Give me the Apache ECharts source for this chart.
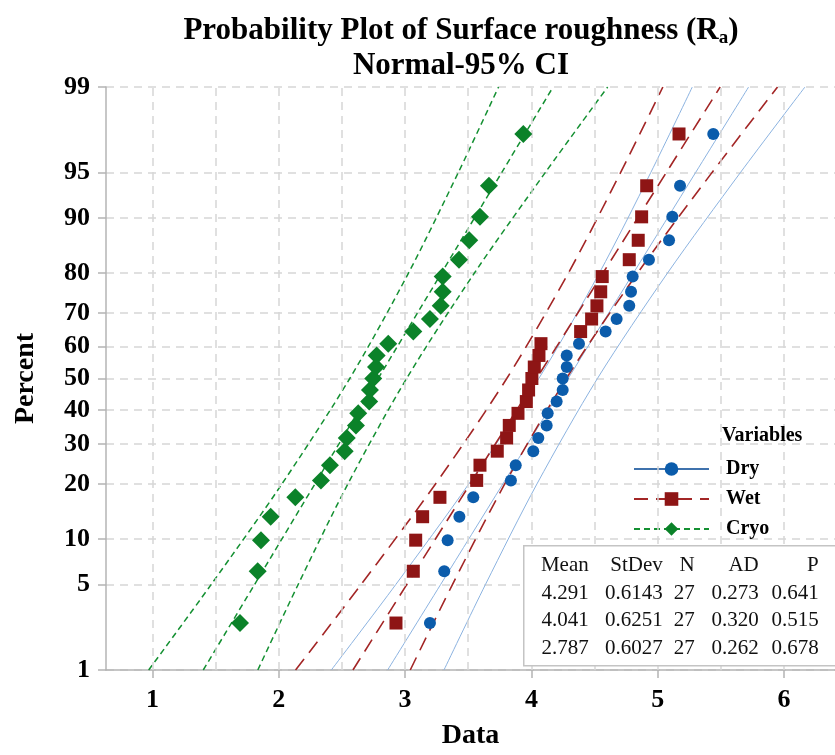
<!DOCTYPE html>
<html>
<head>
<meta charset="utf-8">
<script src="https://cdn.jsdelivr.net/npm/echarts@6/dist/echarts.min.js"></script>
<style>
  html, body { margin: 0; padding: 0; background: #fff; }
  #chart { width: 835px; height: 755px; }
</style>
</head>
<body>
<div id="chart"></div>
<script>
// percent axis labels and plotting positions (median ranks, n = 27)
const percentTicks = [1, 5, 10, 20, 30, 40, 50, 60, 70, 80, 90, 95, 99];
const plotPercent = [2.55, 6.20, 9.85, 13.50, 17.15, 20.80, 24.45, 28.10, 31.75, 35.40, 39.05, 42.70, 46.35,
  50.00, 53.65, 57.30, 60.95, 64.60, 68.25, 71.90, 75.55, 79.20, 82.85, 86.50, 90.15, 93.80, 97.45];

const dryData = [3.197, 3.31, 3.337, 3.43, 3.54, 3.838, 3.876, 4.015, 4.055, 4.121, 4.129, 4.20, 4.248, 4.248,
  4.28, 4.28, 4.377, 4.588, 4.675, 4.775, 4.789, 4.802, 4.931, 5.09, 5.116, 5.177, 5.44];
const wetData = [2.928, 3.065, 3.084, 3.139, 3.276, 3.567, 3.593, 3.730, 3.804, 3.825, 3.894, 3.96, 3.978, 4.004,
  4.023, 4.06, 4.076, 4.39, 4.477, 4.519, 4.549, 4.561, 4.775, 4.846, 4.873, 4.913, 5.169];
const cryoData = [1.693, 1.833, 1.859, 1.936, 2.131, 2.334, 2.405, 2.522, 2.538, 2.611, 2.629, 2.716, 2.722, 2.748,
  2.770, 2.775, 2.867, 3.065, 3.197, 3.282, 3.298, 3.298, 3.427, 3.508, 3.593, 3.664, 3.936];

// fitted line and 95% CI band, read at these percents
const bandPercent = [1, 5, 20, 50, 80, 95, 99];
const dryFit   = [2.862, 3.281, 3.774, 4.291, 4.808, 5.301, 5.720];
const dryLow   = [2.416, 2.926, 3.504, 4.059, 4.538, 4.946, 5.274];
const dryHigh  = [3.308, 3.636, 4.044, 4.523, 5.078, 5.656, 6.166];
const wetFit   = [2.587, 3.013, 3.515, 4.041, 4.567, 5.069, 5.495];
const wetLow   = [2.133, 2.651, 3.241, 3.805, 4.293, 4.707, 5.041];
const wetHigh  = [3.041, 3.375, 3.789, 4.277, 4.841, 5.431, 5.949];
const cryoFit  = [1.402, 1.808, 2.286, 2.787, 3.288, 3.766, 4.172];
const cryoLow  = [0.970, 1.464, 2.025, 2.562, 3.027, 3.422, 3.740];
const cryoHigh = [1.834, 2.153, 2.547, 3.012, 3.549, 4.111, 4.604];

const xTicks = [1, 2, 3, 4, 5, 6];
const xGrid = [1, 1.5, 2, 2.5, 3, 3.5, 4, 4.5, 5, 5.5, 6];

const tableHead = ['Mean', 'StDev', 'N', 'AD', 'P'];
const tableRows = [
  ['4.291', '0.6143', '27', '0.273', '0.641'],
  ['4.041', '0.6251', '27', '0.320', '0.515'],
  ['2.787', '0.6027', '27', '0.262', '0.678']
];

// normal quantile (probit) used as the y scale
function probit(p) {
  const a = [-3.969683028665376e+01, 2.209460984245205e+02, -2.759285104469687e+02, 1.383577518672690e+02, -3.066479806614716e+01, 2.506628277459239e+00];
  const b = [-5.447609879822406e+01, 1.615858368580409e+02, -1.556989798598866e+02, 6.680131188771972e+01, -1.328068155288572e+01];
  const c = [-7.784894002430293e-03, -3.223964580411365e-01, -2.400758277161838e+00, -2.549732539343734e+00, 4.374664141464968e+00, 2.938163982698783e+00];
  const d = [7.784695709041462e-03, 3.224671290700398e-01, 2.445134137142996e+00, 3.754408661907416e+00];
  const pl = 0.02425;
  if (p < pl) {
    const q = Math.sqrt(-2 * Math.log(p));
    return (((((c[0] * q + c[1]) * q + c[2]) * q + c[3]) * q + c[4]) * q + c[5]) / ((((d[0] * q + d[1]) * q + d[2]) * q + d[3]) * q + 1);
  }
  if (p > 1 - pl) {
    const q = Math.sqrt(-2 * Math.log(1 - p));
    return -(((((c[0] * q + c[1]) * q + c[2]) * q + c[3]) * q + c[4]) * q + c[5]) / ((((d[0] * q + d[1]) * q + d[2]) * q + d[3]) * q + 1);
  }
  const q = p - 0.5, r = q * q;
  return (((((a[0] * r + a[1]) * r + a[2]) * r + a[3]) * r + a[4]) * r + a[5]) * q / (((((b[0] * r + b[1]) * r + b[2]) * r + b[3]) * r + b[4]) * r + 1);
}
const zOf = (pct) => probit(pct / 100);

const serif = '"Liberation Serif", "Times New Roman", serif';
const colors = { dry: '#0b5cab', wet: '#8e1515', cryo: '#0b8229' };
const lineCols = { dry: '#8cb3e0', wet: '#a32626', cryo: '#149032' };

function pts(xs, pcts) {
  return xs.map((x, i) => [x, zOf(pcts[i])]);
}

function groupSeries(name, key, symbol, symSize, fit, low, high, obs, lineType, lineW) {
  const ls = { color: lineCols[key], width: lineW, type: lineType };
  const mk = (n, d) => ({
    name: n, type: 'line', data: pts(d, bandPercent), smooth: 0.3,
    symbol: symbol, showSymbol: false, symbolSize: symSize,
    itemStyle: { color: colors[key] }, lineStyle: ls, silent: true, z: 3
  });
  return [
    mk(name, fit),
    mk(name + ' lower', low),
    mk(name + ' upper', high),
    {
      name: name, type: 'scatter', data: pts(obs, plotPercent),
      symbol: symbol, symbolSize: symSize,
      itemStyle: { color: colors[key], opacity: 1 }, z: 5
    }
  ];
}

const chart = echarts.init(document.getElementById('chart'));

const yMin = zOf(1), yMax = zOf(99);
const yTickVals = percentTicks.map(zOf);

const tableCells = [tableHead].concat(tableRows).flatMap((row, r) =>
  row.map((txt, c) => ({
    type: 'text', z: 101,
    style: {
      text: txt, x: [65, 139, 171, 235, 295][c], y: 20 + r * 27.5,
      textAlign: 'right', textVerticalAlign: 'middle',
      font: '21px ' + serif, fill: '#111'
    }
  }))
);

const option = {
  animation: false,
  backgroundColor: '#fff',
  title: [{
    text: '{t|Probability Plot of Surface roughness (R}{s|a}{t|)}\n{t|Normal-95% CI}',
    left: 456, top: 8, textAlign: 'center',
    textStyle: {
      rich: {
        t: { fontFamily: serif, fontWeight: 'bold', fontSize: 31, lineHeight: 35, color: '#000' },
        s: { fontFamily: serif, fontWeight: 'bold', fontSize: 19, lineHeight: 14, verticalAlign: 'bottom', color: '#000' }
      }
    }
  }, {
    text: 'Variables', left: 717, top: 421,
    textStyle: { fontFamily: serif, fontWeight: 'bold', fontSize: 20, color: '#000' }
  }],
  grid: { left: 106, right: 0, top: 87, bottom: 81 },
  legend: {
    data: [
      { name: 'Dry', lineStyle: { color: '#3f72ad' } },
      { name: 'Wet' },
      { name: 'Cryo' }
    ],
    orient: 'vertical', left: 628, top: 454,
    itemWidth: 75, itemHeight: 17, itemGap: 10,
    selectedMode: false,
    textStyle: { fontFamily: serif, fontWeight: 'bold', fontSize: 20, color: '#000', padding: [0, 0, 0, 12] }
  },
  xAxis: {
    type: 'value', min: 0.632, max: 6.404,
    name: 'Data', nameLocation: 'middle', nameGap: 52,
    nameTextStyle: { fontFamily: serif, fontWeight: 'bold', fontSize: 28, color: '#000' },
    axisLine: { show: true, onZero: false, lineStyle: { color: '#b4b4b4', width: 1.5 } },
    axisTick: { show: true, customValues: xTicks, length: 8, lineStyle: { color: '#b4b4b4', width: 1.5 } },
    axisLabel: { customValues: xTicks, margin: 17, fontFamily: serif, fontWeight: 'bold', fontSize: 26, color: '#000' },
    splitLine: { show: false }
  },
  yAxis: {
    type: 'value', min: yMin, max: yMax,
    name: 'Percent', nameLocation: 'middle', nameGap: 66,
    nameTextStyle: { fontFamily: serif, fontWeight: 'bold', fontSize: 28, color: '#000' },
    axisLine: { show: true, onZero: false, lineStyle: { color: '#b4b4b4', width: 1.5 } },
    axisTick: { show: true, customValues: yTickVals, length: 8, lineStyle: { color: '#b4b4b4', width: 1.5 } },
    axisLabel: {
      customValues: yTickVals, margin: 16,
      fontFamily: serif, fontWeight: 'bold', fontSize: 26, color: '#000',
      formatter: (v) => {
        const i = yTickVals.findIndex((t) => Math.abs(t - v) < 1e-6);
        return i >= 0 ? String(percentTicks[i]) : '';
      }
    },
    splitLine: { show: true, lineStyle: { color: '#d6d6d6', type: [8, 6], width: 1.5 } }
  },
  series: [
    {
      name: 'grid', type: 'line', data: [], silent: true, z: 1,
      markLine: {
        silent: true, symbol: 'none', label: { show: false },
        lineStyle: { color: '#d6d6d6', type: [8, 6], width: 1.5 },
        data: xGrid.map((v) => ({ xAxis: v }))
      }
    },
    ...groupSeries('Dry', 'dry', 'circle', 12, dryFit, dryLow, dryHigh, dryData, 'solid', 1),
    ...groupSeries('Wet', 'wet', 'rect', 13, wetFit, wetLow, wetHigh, wetData, [14, 8], 1.6),
    ...groupSeries('Cryo', 'cryo', 'diamond', 18, cryoFit, cryoLow, cryoHigh, cryoData, [6, 4], 1.5)
  ],
  graphic: [{
    type: 'group', left: 523, top: 545, z: 100,
    children: [
      { type: 'rect', z: 100, shape: { x: 0, y: 0, width: 330, height: 120 }, style: { fill: '#fff', stroke: '#c4c4c4', lineWidth: 1.5 } }
    ].concat(tableCells)
  }]
};

chart.setOption(option);
</script>
</body>
</html>
